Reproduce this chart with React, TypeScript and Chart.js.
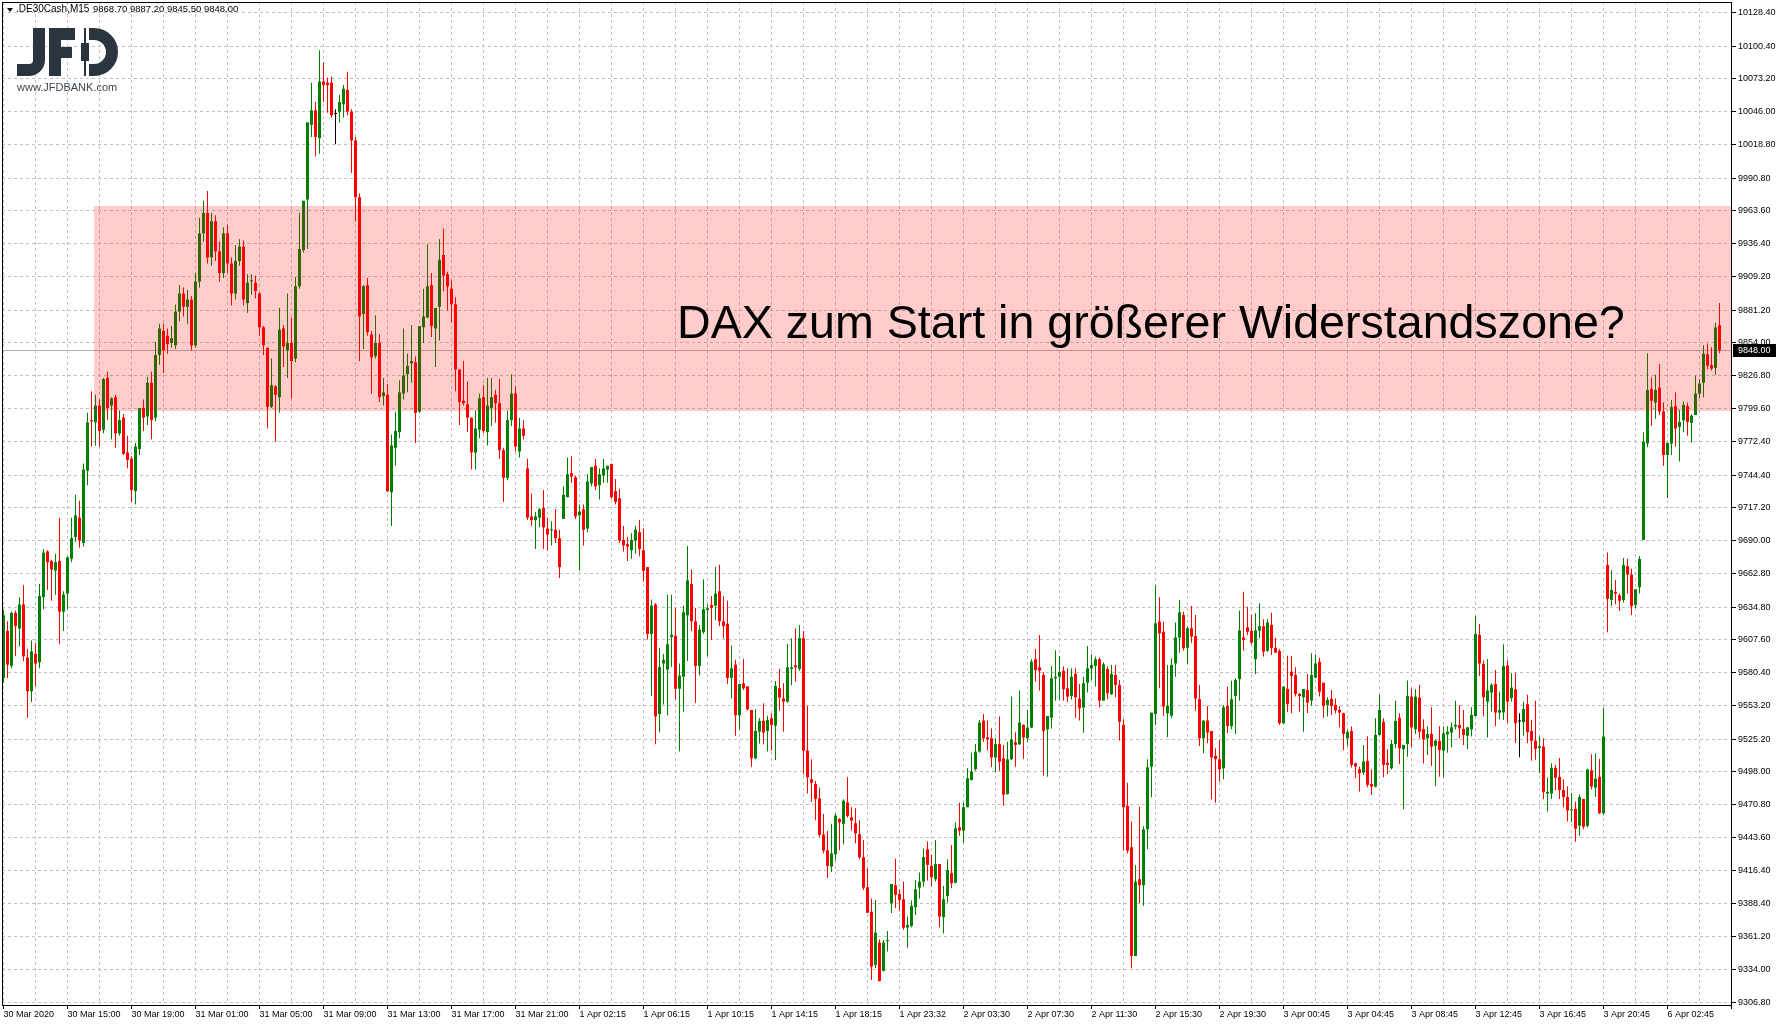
import React, { useEffect, useRef } from 'react';
import { Chart, registerables } from 'chart.js';

Chart.register(...registerables);

// ---- data: DAX CFD M15 candles (index 0 = 30 Mar 2020 11:00) ----
const opens = [
  9576, 9615, 9586, 9630, 9617, 9637, 9593, 9565, 9596, 9589,
  9643, 9681, 9673, 9665, 9673, 9631, 9646, 9675, 9693, 9709,
  9688, 9748, 9790, 9788, 9802, 9782, 9825, 9802, 9809, 9779,
  9792, 9763, 9758, 9731, 9766, 9800, 9793, 9821, 9792, 9844,
  9864, 9860, 9854, 9852, 9880, 9895, 9884, 9890, 9852, 9905,
  9945, 9962, 9925, 9955, 9930, 9912, 9945, 9920, 9895, 9922,
  9934, 9887, 9905, 9904, 9895, 9867, 9850, 9801, 9818, 9809,
  9866, 9848, 9854, 9841, 9901, 9931, 9973, 10035, 10047, 10024,
  10071, 10070, 10070, 10044, 10046, 10052, 10064, 10046, 10022, 9975,
  9878, 9902, 9861, 9843, 9854, 9810, 9811, 9730, 9767, 9780,
  9812, 9828, 9837, 9838, 9797, 9867, 9875, 9902, 9866, 9884,
  9927, 9911, 9899, 9886, 9832, 9806, 9803, 9792, 9763, 9782,
  9809, 9780, 9800, 9811, 9804, 9765, 9742, 9790, 9812, 9764,
  9783, 9750, 9710, 9707, 9709, 9717, 9700, 9698.5, 9699, 9692,
  9708, 9726, 9746, 9742.5, 9711, 9716, 9700, 9737.5, 9752, 9736,
  9744, 9749, 9753.5, 9731, 9725, 9690.5, 9687, 9682, 9690, 9697,
  9682, 9668, 9612.5, 9637, 9546, 9588, 9583, 9610, 9611, 9567,
  9577, 9628, 9654, 9623, 9586, 9614, 9632.4, 9636.5, 9636, 9648,
  9623, 9621, 9576, 9587, 9545, 9571.5, 9569, 9549.4, 9509.3, 9531.4,
  9540.3, 9532, 9542.5, 9536.4, 9567.4, 9559, 9556.3, 9583.4, 9586.5, 9583.4,
  9609, 9515.7, 9492, 9488, 9476, 9446, 9433, 9419.4, 9429.7, 9459,
  9454.8, 9472.8, 9460.3, 9455.4, 9446.3, 9427.2, 9402.3, 9382, 9337.8, 9356.4,
  9333, 9357.6, 9389, 9404, 9396.7, 9392.3, 9368.8, 9370.2, 9385.7, 9402,
  9407, 9433.8, 9420, 9409, 9421.6, 9377.4, 9395, 9414, 9406, 9452,
  9449.3, 9468.7, 9491.3, 9500.2, 9514.9, 9540.6, 9526.7, 9525.9, 9510, 9521,
  9509.3, 9479.7, 9508.5, 9522.6, 9521, 9537, 9526, 9534.8, 9591.5, 9584.8,
  9578.5, 9533.4, 9543, 9575.7, 9577, 9582, 9567.4, 9561, 9579.3, 9559,
  9551.4, 9572, 9584, 9586, 9591.5, 9557.2, 9583.4, 9562.4, 9578.5, 9570.2,
  9537, 9469.8, 9435.5, 9345.3, 9409, 9404, 9450.4, 9502.4, 9546, 9622.7,
  9614.4, 9546.7, 9544.7, 9588, 9609.4, 9628.3, 9601, 9617.2, 9610.8, 9558.3,
  9526, 9540.6, 9532, 9511.3, 9508.5, 9501, 9552.7, 9536, 9561, 9575,
  9609.7, 9618, 9615, 9591.5, 9615.3, 9619, 9598.4, 9620, 9601, 9598.4,
  9538.4, 9567, 9581.2, 9578.5, 9562.7, 9560, 9566, 9557.2, 9576.3, 9589.5,
  9572, 9553.6, 9558.6, 9553.6, 9549.4, 9546.7, 9526, 9532, 9505.2, 9500.2,
  9497.4, 9507, 9488, 9485.8, 9528.7, 9539.7, 9505.7, 9501, 9521.2, 9543,
  9516.8, 9521.2, 9560.5, 9533.4, 9559.7, 9533.7, 9526, 9529.5, 9519.6, 9523.7,
  9515.7, 9529.2, 9530.6, 9535.6, 9537, 9533.7, 9528, 9533.4, 9544.4, 9611.7,
  9587.6, 9556.3, 9563.8, 9571, 9547.2, 9547.4, 9586.4, 9559.4, 9566.6, 9539.9,
  9539.3, 9554.1, 9531.9, 9523.9, 9518, 9519.1, 9480, 9480, 9501.4, 9493.9,
  9483, 9477.1, 9466.1, 9467.3, 9453.3, 9475.6, 9453.3, 9499.3, 9485, 9493.9,
  9463.7, 9669.7, 9640.7, 9647.5, 9644.5, 9640.7, 9668.8, 9661.7, 9636.5, 9651.3,
  9690.5, 9770.5, 9815.8, 9804.6, 9817, 9797.2, 9761, 9770.5, 9801.6, 9784.4,
  9789.8, 9801.6, 9787.7, 9794.2, 9812, 9820.9, 9844.6, 9835.7, 9833.3, 9868.7,
];

const highs = [
  9632, 9623, 9631, 9632, 9643, 9653, 9600, 9607, 9605, 9654,
  9683, 9682, 9674, 9679, 9709, 9648, 9677, 9709, 9728, 9723,
  9754, 9796, 9814, 9811, 9807, 9825, 9830, 9809, 9811, 9798,
  9795, 9777, 9760, 9771, 9800, 9807, 9826, 9830, 9855, 9870,
  9870, 9866, 9868, 9886, 9902, 9900, 9898, 9893, 9912, 9958,
  9972, 9980, 9962, 9960, 9938, 9950, 9952, 9925, 9935, 9940,
  9939, 9911, 9911, 9910, 9896, 9868, 9850, 9841, 9819, 9883,
  9869, 9895, 9875, 9909, 9962, 9972, 10037, 10070, 10054, 10097,
  10087, 10074, 10075, 10048, 10060, 10068, 10079, 10048, 10025, 9978,
  9902, 9908, 9864, 9877, 9861, 9825, 9820, 9778, 9797, 9823,
  9866, 9845, 9869, 9843, 9868, 9899, 9936, 9912, 9883, 9940,
  9949, 9913, 9906, 9892, 9832, 9839, 9822, 9792, 9798, 9812,
  9819, 9825, 9825, 9815, 9824, 9767, 9798, 9828, 9818, 9792,
  9790, 9758, 9729, 9714, 9717, 9732, 9709, 9706, 9716, 9699,
  9735, 9759, 9760, 9744, 9720, 9720, 9745, 9751, 9758, 9750,
  9758, 9752, 9754, 9741, 9733, 9702, 9693, 9696, 9702, 9707,
  9700, 9668, 9641, 9638, 9601, 9596, 9645, 9645, 9634, 9588,
  9636, 9685.5, 9666, 9634, 9620, 9658, 9637, 9644, 9668, 9670,
  9644, 9640, 9603, 9591, 9571, 9592, 9569, 9549.4, 9550, 9542.5,
  9555, 9544.7, 9546.7, 9573.5, 9583.4, 9571.6, 9604.2, 9609, 9617, 9620,
  9615, 9552.7, 9508.5, 9490.5, 9485, 9463, 9449, 9455, 9463.7, 9459.5,
  9475.3, 9493.6, 9468.7, 9467.8, 9458, 9441.6, 9418, 9393, 9391.8, 9359,
  9358.6, 9366, 9405, 9426, 9400.6, 9407, 9378, 9391.2, 9408.4, 9414.5,
  9434.6, 9440.2, 9429, 9441.6, 9421.6, 9403.4, 9425.5, 9437.4, 9456, 9472.5,
  9472.5, 9501, 9514, 9521.2, 9541, 9546, 9540.6, 9534, 9526, 9544,
  9520.4, 9523, 9560.5, 9531, 9565.5, 9537.5, 9549.4, 9591.5, 9600, 9611.7,
  9580.7, 9544.5, 9586, 9599, 9594, 9585.4, 9584, 9584, 9584, 9571,
  9577, 9602.5, 9595.6, 9593.7, 9593, 9589, 9585.4, 9586.8, 9586.8, 9574.3,
  9541.7, 9489, 9456.8, 9420.8, 9469, 9453, 9508.5, 9547.2, 9653, 9643,
  9622.7, 9586.8, 9592.3, 9622, 9640.7, 9631, 9618.6, 9635.7, 9628.3, 9570.2,
  9540.6, 9552.7, 9532, 9517.6, 9525, 9553.6, 9568.8, 9573.8, 9575.7, 9632,
  9647.6, 9635, 9628.3, 9629.6, 9638, 9624.7, 9624.7, 9630, 9609.4, 9600,
  9568.8, 9594.5, 9594.2, 9584.8, 9563.8, 9566.8, 9579.3, 9596.4, 9595.6, 9592.8,
  9572, 9560, 9566, 9559, 9552.7, 9547.2, 9532.8, 9535.6, 9505.7, 9502.4,
  9520.4, 9527.3, 9500, 9542.5, 9562, 9542.5, 9516.8, 9524.5, 9557, 9546.7,
  9520.4, 9573.8, 9567.4, 9566.6, 9570.2, 9541.7, 9536, 9551.6, 9525, 9536,
  9536, 9536, 9539, 9557, 9553.6, 9549.4, 9535, 9551.6, 9627.4, 9620.8,
  9590.4, 9591.7, 9571.6, 9582.6, 9564.6, 9604, 9590.6, 9580.2, 9580.2, 9546.7,
  9556.2, 9562.1, 9541.4, 9557.1, 9527.4, 9526, 9493.3, 9505.2, 9503.7, 9509.6,
  9491.9, 9485.9, 9480.6, 9473.2, 9479.2, 9475.6, 9500.8, 9512.6, 9513.2, 9508.8,
  9551.2, 9680.1, 9665.3, 9657.2, 9646, 9675.6, 9675, 9666.7, 9649.6, 9677.1,
  9779.9, 9845.5, 9825.3, 9827.7, 9836.6, 9804.6, 9771.1, 9806.6, 9812.9, 9798.6,
  9805.4, 9804.6, 9794.8, 9826.8, 9823.8, 9852, 9853.5, 9850.5, 9870.7, 9887.2,
];

const lows = [
  9572, 9576, 9584, 9594, 9602, 9590, 9543, 9556, 9569, 9584,
  9633, 9649, 9640, 9645, 9604, 9615, 9633, 9672, 9689, 9684,
  9685, 9736, 9768, 9769, 9768, 9779, 9790, 9774, 9767, 9777,
  9761, 9750, 9722, 9720, 9761, 9781, 9786, 9774, 9789, 9836,
  9829, 9845, 9850, 9849, 9872, 9876, 9870, 9848, 9850, 9900,
  9938, 9920, 9918, 9922, 9905, 9908, 9912, 9885, 9890, 9918,
  9885, 9879, 9894, 9891, 9860, 9844, 9783, 9800, 9772, 9796,
  9834, 9825, 9808, 9838, 9899, 9929, 9932, 10025, 10009, 10011,
  10054, 10045, 10041, 10019, 10037, 10041, 10043, 9995, 9955, 9839,
  9849, 9860, 9812, 9841, 9805, 9802, 9730, 9702, 9752, 9775,
  9807, 9813, 9821, 9771, 9796, 9854, 9875, 9859, 9834, 9856,
  9897, 9881, 9871, 9814, 9786, 9802, 9780, 9749, 9749, 9775,
  9779, 9769, 9785, 9788, 9758, 9722, 9740, 9785, 9764, 9759,
  9774, 9707, 9702, 9683, 9701, 9683, 9682, 9686, 9688, 9659,
  9708, 9726, 9738, 9708, 9665, 9686, 9697, 9735, 9732, 9724,
  9738, 9738, 9725, 9720, 9688, 9681, 9673, 9675, 9679, 9677,
  9656, 9608, 9561, 9521, 9531, 9554, 9545, 9585, 9558, 9515,
  9548, 9590, 9615, 9555.5, 9578, 9612.5, 9594, 9607.5, 9624, 9619,
  9609, 9571, 9559, 9528, 9533, 9566, 9549, 9502.4, 9508.5, 9521.5,
  9521, 9515, 9515.7, 9508, 9549, 9531.4, 9555.5, 9570, 9573, 9582,
  9496, 9480, 9473, 9458, 9444, 9430.5, 9410, 9415, 9424.4, 9433,
  9438, 9460, 9449.3, 9438.8, 9425.5, 9400, 9381, 9325.4, 9335, 9324,
  9332.3, 9349, 9381, 9385, 9383, 9367, 9352, 9369, 9379.3, 9393,
  9402.8, 9407.8, 9403.4, 9407, 9369, 9364, 9389, 9401.4, 9405.6, 9445,
  9439.3, 9468.7, 9490.8, 9499, 9514, 9523, 9516, 9502, 9498, 9499,
  9470, 9479, 9508, 9502.4, 9520.4, 9509, 9523, 9534.2, 9573, 9565.5,
  9495, 9494, 9534, 9557, 9558, 9557, 9556, 9558, 9543, 9540.6,
  9530.6, 9564, 9574, 9569, 9551.6, 9557, 9558.3, 9562, 9560, 9524,
  9432.7, 9430.5, 9335, 9345, 9389, 9387, 9434, 9477, 9537, 9567.4,
  9544.4, 9526.7, 9543, 9577, 9597, 9598.7, 9587.6, 9605.3, 9549, 9519.6,
  9513.5, 9521.8, 9475.3, 9472.5, 9490, 9492, 9530, 9533.4, 9529.5, 9557,
  9598.7, 9611.7, 9604, 9579.3, 9609, 9593.7, 9597.8, 9595, 9597, 9537,
  9537.8, 9547.5, 9546.7, 9560.5, 9548, 9531.4, 9547, 9553, 9575.7, 9560.5,
  9543, 9544, 9545.3, 9546.7, 9535, 9516, 9519.6, 9501.6, 9492.7, 9481.7,
  9495.5, 9485.3, 9479, 9485.3, 9528, 9493.5, 9496.3, 9500, 9517.6, 9504.6,
  9467, 9510.7, 9519, 9529.5, 9526, 9505, 9512, 9503, 9486.4, 9494,
  9493.5, 9514, 9518.4, 9533.4, 9526, 9520.4, 9516.8, 9527.3, 9544, 9577.6,
  9544, 9526.5, 9548, 9536, 9541.7, 9541, 9539, 9556.5, 9522.1, 9510.2,
  9528, 9522.1, 9507.3, 9508.2, 9497.2, 9475.6, 9465.2, 9475.6, 9483, 9475.6,
  9468.7, 9456.9, 9456.3, 9440, 9445, 9450.4, 9451.9, 9483.6, 9477.1, 9463,
  9462.2, 9614, 9635.6, 9637.1, 9631.8, 9638.6, 9646, 9628.2, 9634.1, 9646,
  9690.5, 9767.5, 9785.3, 9791.2, 9794.2, 9752.1, 9725.1, 9761, 9768.1, 9755.7,
  9779.9, 9777, 9771.1, 9794.2, 9808.4, 9809, 9832.1, 9831.2, 9827.4, 9845.5,
];

const closes = [
  9628, 9587, 9630, 9619, 9637, 9594, 9565, 9598, 9588, 9644,
  9680, 9672, 9666, 9672, 9631, 9645, 9676, 9692, 9711, 9690,
  9749, 9788, 9789, 9802, 9781, 9824, 9800, 9808, 9779, 9790,
  9762, 9757, 9732, 9768, 9800, 9792, 9821, 9790, 9844, 9866,
  9848, 9853, 9858, 9880, 9895, 9884, 9890, 9852, 9905, 9945,
  9962, 9925, 9955, 9930, 9912, 9945, 9920, 9895, 9922, 9934,
  9890, 9904, 9906, 9897, 9867, 9852, 9801, 9819, 9811, 9865,
  9851, 9854, 9839, 9901, 9932, 9972, 10037, 10047, 10025, 10071,
  10068, 10068, 10043, 10044, 10054, 10065, 10046, 10022, 9975, 9876,
  9901, 9863, 9842, 9854, 9809, 9813, 9731, 9769, 9781, 9813,
  9827, 9835, 9839, 9796, 9868, 9876, 9901, 9868, 9883, 9923,
  9910, 9901, 9886, 9832, 9805, 9804, 9792, 9763, 9783, 9808,
  9781, 9802, 9809, 9804, 9765, 9742, 9790, 9812, 9768, 9783,
  9777, 9709, 9707, 9710, 9716, 9701, 9695, 9699.3, 9692, 9668,
  9728, 9745, 9743, 9710, 9714, 9699, 9739, 9751, 9735, 9745,
  9750, 9752, 9726, 9722, 9690, 9686, 9685, 9690.5, 9699, 9683,
  9665, 9612.5, 9636, 9544, 9585, 9591, 9604, 9612, 9567, 9578,
  9630.5, 9657, 9623, 9586, 9616, 9633, 9633.8, 9634.3, 9646, 9623,
  9619, 9576, 9584, 9545, 9571, 9567.4, 9550, 9509.3, 9532, 9540.3,
  9530.6, 9541, 9537, 9569.3, 9559.7, 9556.3, 9584.8, 9584.8, 9584.8, 9609,
  9515.7, 9493.5, 9489, 9475.6, 9445.7, 9432.7, 9420, 9430.5, 9461.7, 9456.2,
  9474.2, 9461.5, 9457.6, 9447.1, 9427.2, 9402, 9381.2, 9336.4, 9364.7, 9324.5,
  9356.4, 9357.9, 9405, 9396, 9391.8, 9368.8, 9371, 9386.8, 9400.6, 9407,
  9427.2, 9420.8, 9410.6, 9421.6, 9378, 9392.3, 9416.7, 9405.6, 9451.2, 9449.3,
  9468.7, 9492.7, 9498.3, 9514.9, 9538.9, 9525.9, 9525.1, 9510, 9521, 9506.6,
  9479, 9508.5, 9525, 9520.4, 9539, 9526.5, 9534.8, 9589.5, 9582.6, 9582,
  9532, 9544.4, 9575.7, 9577, 9581, 9566.6, 9560.5, 9577, 9560, 9550.8,
  9571.6, 9584, 9586.8, 9591.5, 9557.2, 9587.3, 9563.3, 9579.3, 9570.2, 9539.7,
  9468.7, 9432.7, 9345.3, 9407, 9404, 9450.4, 9501.8, 9547.2, 9621.3, 9613,
  9552.2, 9552.7, 9586.8, 9609.7, 9630.5, 9600.6, 9617.2, 9610.3, 9559, 9526,
  9540.6, 9530.6, 9510, 9508.5, 9500.2, 9551.6, 9536, 9558.3, 9574.3, 9615.3,
  9607.5, 9614.4, 9605.3, 9615.5, 9619, 9597.8, 9622, 9601, 9597, 9538.4,
  9568.8, 9554.4, 9577.6, 9562.7, 9561, 9566.8, 9555.5, 9578.5, 9588, 9564.6,
  9552.7, 9557.7, 9552.7, 9549, 9547.2, 9529.5, 9531, 9503.8, 9502.4, 9497,
  9506.6, 9487.2, 9485.8, 9528.7, 9549.4, 9503.8, 9503.8, 9521.2, 9540.3, 9517.6,
  9520.4, 9561, 9535, 9560.5, 9531.4, 9525, 9529.5, 9519, 9524, 9516.2,
  9530, 9531.4, 9535, 9537, 9534.2, 9528.7, 9535, 9545.3, 9612.5, 9588,
  9560, 9565.5, 9570.2, 9547.2, 9549.4, 9586, 9556.4, 9568, 9538.4, 9539.9,
  9550.3, 9531, 9523.9, 9517.1, 9519.4, 9481.5, 9481.5, 9501.4, 9493.3, 9483,
  9477.1, 9466.1, 9466.5, 9451, 9477.1, 9452.4, 9499.9, 9485.9, 9492.4, 9463.7,
  9527.4, 9641.6, 9649, 9646, 9640.1, 9669.7, 9661.7, 9635.6, 9649.6, 9674.7,
  9772, 9814.9, 9806, 9814.9, 9797.2, 9761, 9771.1, 9800.7, 9782.9, 9788.3,
  9802.5, 9788.3, 9793.6, 9812, 9820.3, 9845.2, 9835.1, 9832.7, 9866.8, 9848,
];

// x-axis labels, one every 16 bars
const xTickLabels = [
  '30 Mar 2020', '30 Mar 15:00', '30 Mar 19:00', '31 Mar 01:00', '31 Mar 05:00',
  '31 Mar 09:00', '31 Mar 13:00', '31 Mar 17:00', '31 Mar 21:00', '1 Apr 02:15',
  '1 Apr 06:15', '1 Apr 10:15', '1 Apr 14:15', '1 Apr 18:15', '1 Apr 23:32',
  '2 Apr 03:30', '2 Apr 07:30', '2 Apr 11:30', '2 Apr 15:30', '2 Apr 19:30',
  '3 Apr 00:45', '3 Apr 04:45', '3 Apr 08:45', '3 Apr 12:45', '3 Apr 16:45',
  '3 Apr 20:45', '6 Apr 02:45',
];
const barsPerLabel = 16;
const barsPerGrid = 8;

// y-axis price labels
const yTickValues = [
  10128.4, 10100.4, 10073.2, 10046.0, 10018.8, 9990.8, 9963.6, 9936.4, 9909.2, 9881.2,
  9854.0, 9826.8, 9799.6, 9772.4, 9744.4, 9717.2, 9690.0, 9662.8, 9634.8, 9607.6,
  9580.4, 9553.2, 9525.2, 9498.0, 9470.8, 9443.6, 9416.4, 9388.4, 9361.2, 9334.0, 9306.8,
];

const symbolText = '.DE30Cash,M15';
const headerValues = ['9868.70', '9887.20', '9845.50', '9848.00'];
const bidPrice = 9848.0;
const headline = 'DAX zum Start in größerer Widerstandszone?';
const zoneStartIndex = 22.5;
const zoneTop = 9967.7;
const zoneBottom = 9797.5;

// axis ranges
const xMin = -0.375;
const xMax = 432.125;
const yMin = 9303.75;
const yMax = 10136.95;

const BULL = '#008000';
const BEAR = '#ff0000';
const DOJI = '#000000';
const GRID = '#c0c0c0';
const AXIS_FONT = { family: '"Liberation Sans", Arial, sans-serif', size: 9 };

export default function App() {
  const canvasRef = useRef<HTMLCanvasElement | null>(null);

  useEffect(() => {
    const canvas = canvasRef.current;
    if (!canvas) return;

    const idx = opens.map((_, i) => i);
    const colors = idx.map((i) =>
      closes[i] > opens[i] ? BULL : closes[i] < opens[i] ? BEAR : DOJI
    );
    const wickData = idx.map((i) => ({
      x: i,
      y: [Math.min(lows[i], opens[i], closes[i]), Math.max(highs[i], opens[i], closes[i])],
    }));
    const bodyData = idx.map((i) => ({ x: i, y: [opens[i], closes[i]] }));

    const decor = {
      id: 'mt4Decor',
      beforeDatasetsDraw(chart: any) {
        const { ctx, chartArea, scales } = chart;
        const y = Math.round(scales.y.getPixelForValue(bidPrice)) + 0.5;
        ctx.save();
        ctx.strokeStyle = '#b4b4b4';
        ctx.lineWidth = 1;
        ctx.beginPath();
        ctx.moveTo(chartArea.left, y);
        ctx.lineTo(chartArea.right, y);
        ctx.stroke();
        ctx.restore();
      },
      afterDatasetsDraw(chart: any) {
        const { ctx, chartArea, scales } = chart;
        const x0 = Math.round(scales.x.getPixelForValue(zoneStartIndex));
        const y0 = Math.round(scales.y.getPixelForValue(zoneTop));
        const y1 = Math.round(scales.y.getPixelForValue(zoneBottom));
        ctx.save();
        ctx.fillStyle = 'rgba(255, 0, 0, 0.2)';
        ctx.fillRect(x0, y0, chartArea.right - x0, y1 - y0);
        ctx.restore();
      },
      afterDraw(chart: any) {
        const { ctx, chartArea, scales } = chart;
        ctx.save();
        // frame
        ctx.strokeStyle = '#000';
        ctx.lineWidth = 1;
        ctx.strokeRect(
          chartArea.left + 0.5,
          chartArea.top + 0.5,
          chartArea.right - chartArea.left - 1,
          chartArea.bottom - chartArea.top - 1
        );

        // headline
        ctx.fillStyle = '#000';
        ctx.font = '46.6px "Liberation Sans", Arial, sans-serif';
        ctx.textBaseline = 'alphabetic';
        ctx.textAlign = 'left';
        ctx.fillText(headline, 677, 338);

        // header: triangle + symbol + OHLC
        ctx.beginPath();
        ctx.moveTo(7, 8);
        ctx.lineTo(13, 8);
        ctx.lineTo(10, 12);
        ctx.closePath();
        ctx.fill();
        ctx.font = '10px "Liberation Sans", Arial, sans-serif';
        ctx.fillText(symbolText, 16, 12);
        ctx.font = '9.5px "Liberation Sans", Arial, sans-serif';
        ctx.fillText(headerValues.join(' '), 93, 12);

        // logo
        const logo = '#2b3540';
        ctx.fillStyle = logo;
        ctx.strokeStyle = logo;
        ctx.lineCap = 'butt';
        ctx.lineWidth = 12;
        ctx.beginPath();
        ctx.moveTo(39, 28);
        ctx.lineTo(39, 60);
        ctx.arc(29, 60, 10, 0, Math.PI / 2);
        ctx.lineTo(17, 70);
        ctx.stroke();
        ctx.fillRect(49, 28, 12, 48);
        ctx.fillRect(49, 28, 26, 12);
        ctx.fillRect(49, 47, 23, 11);
        ctx.fillRect(84, 28, 2, 48);
        ctx.fillRect(81, 43, 8, 18);
        ctx.beginPath();
        ctx.moveTo(89, 34);
        ctx.lineTo(94, 34);
        ctx.arc(94, 52, 18, -Math.PI / 2, Math.PI / 2);
        ctx.lineTo(89, 70);
        ctx.stroke();
        ctx.fillStyle = '#3c4650';
        ctx.font = '11px "Liberation Sans", Arial, sans-serif';
        ctx.fillText('www.JFDBANK.com', 17, 91);

        // bid price tag on the axis
        const by = Math.round(scales.y.getPixelForValue(bidPrice));
        ctx.fillStyle = '#000';
        ctx.fillRect(chartArea.right + 1, by - 6, 43, 13);
        ctx.fillStyle = '#fff';
        ctx.font = '9px "Liberation Sans", Arial, sans-serif';
        ctx.textBaseline = 'middle';
        ctx.fillText(bidPrice.toFixed(2), chartArea.right + 6, by + 0.5);
        ctx.restore();
      },
    };

    const chart = new Chart(canvas, {
      type: 'bar',
      data: {
        datasets: [
          {
            label: 'body',
            data: bodyData as any,
            backgroundColor: colors,
            borderWidth: 0,
            grouped: false,
            maxBarThickness: 3,
            barPercentage: 1,
            categoryPercentage: 1,
            minBarLength: 1,
            inflateAmount: 0,
          } as any,
          {
            label: 'wick',
            data: wickData as any,
            backgroundColor: colors,
            borderWidth: 0,
            grouped: false,
            maxBarThickness: 1,
            barPercentage: 1,
            categoryPercentage: 1,
            inflateAmount: 0,
          } as any,
        ],
      },
      options: {
        animation: false,
        responsive: true,
        maintainAspectRatio: false,
        events: [],
        layout: { padding: { left: 2, top: 2, right: 0, bottom: 0 } },
        plugins: {
          legend: { display: false },
          tooltip: { enabled: false },
        },
        scales: {
          x: {
            type: 'linear',
            min: xMin,
            max: xMax,
            offset: false,
            grid: {
              offset: false,
              color: GRID,
              lineWidth: 1,
              drawTicks: true,
              tickLength: 3,
              tickWidth: 1,
              tickBorderDash: [],
              tickColor: (c: any) =>
                c.tick && c.tick.value % barsPerLabel === 0 ? '#000' : 'rgba(0,0,0,0)',
            },
            border: { display: false, dash: [3, 3] },
            ticks: {
              autoSkip: false,
              maxRotation: 0,
              minRotation: 0,
              align: 'start',
              padding: 0,
              color: '#000',
              font: AXIS_FONT,
              callback: (v: any) =>
                v % barsPerLabel === 0 ? xTickLabels[v / barsPerLabel] ?? '' : '',
            },
            afterBuildTicks: (scale: any) => {
              const t = [];
              for (let v = 0; v <= xMax; v += barsPerGrid) t.push({ value: v });
              scale.ticks = t;
            },
            afterFit: (scale: any) => {
              scale.height = 20;
              scale.paddingLeft = 0;
              scale.paddingRight = 0;
              scale.paddingTop = 0;
              scale.paddingBottom = 0;
            },
          } as any,
          y: {
            type: 'linear',
            position: 'right',
            min: yMin,
            max: yMax,
            grid: {
              color: GRID,
              lineWidth: 1,
              drawTicks: true,
              tickLength: 4,
              tickWidth: 1,
              tickColor: '#000',
              tickBorderDash: [],
            },
            border: { display: false, dash: [3, 3] },
            ticks: {
              padding: 2,
              color: '#000',
              font: AXIS_FONT,
              callback: (v: any) => Number(v).toFixed(2),
            },
            afterBuildTicks: (scale: any) => {
              scale.ticks = yTickValues
                .slice()
                .sort((a, b) => a - b)
                .map((v) => ({ value: v }));
            },
            afterFit: (scale: any) => {
              scale.width = 46;
              scale.paddingTop = 0;
              scale.paddingBottom = 0;
              scale.paddingLeft = 0;
              scale.paddingRight = 0;
            },
          } as any,
        },
      },
      plugins: [decor],
    });

    return () => chart.destroy();
  }, []);

  return (
    <div
      style={{
        position: 'fixed',
        left: 0,
        top: 0,
        width: 1778,
        height: 1026,
        background: '#ffffff',
      }}
    >
      <canvas ref={canvasRef} />
    </div>
  );
}
